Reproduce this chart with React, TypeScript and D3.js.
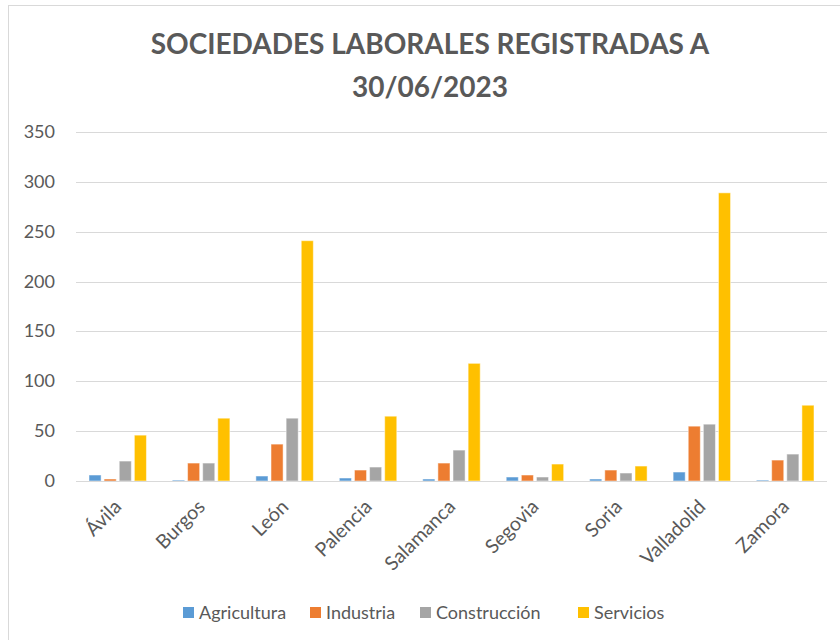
import React, { useEffect, useRef } from 'react'
import * as d3 from 'd3'

const provincias = ['Ávila', 'Burgos', 'León', 'Palencia', 'Salamanca', 'Segovia', 'Soria', 'Valladolid', 'Zamora']
const agricultura = [6, 1, 5, 3, 2, 4, 2, 9, 1]
const industria = [2, 18, 37, 11, 18, 6, 11, 55, 21]
const construccion = [20, 18, 63, 14, 31, 4, 8, 57, 27]
const servicios = [46, 63, 241, 65, 118, 17, 15, 289, 76]
const sectores = ['Agricultura', 'Industria', 'Construcción', 'Servicios']
const colores = ['#5B9BD5', '#ED7D31', '#A5A5A5', '#FFC000']
const yTicks = [0, 50, 100, 150, 200, 250, 300, 350]

const width = 840
const height = 640
const margin = { top: 132, right: 13, bottom: 159, left: 76 }
const font = 'Lato, "Open Sans", sans-serif'

export default function App() {
  const ref = useRef<SVGSVGElement>(null)

  useEffect(() => {
    const svg = d3.select(ref.current)
    svg.selectAll('*').remove()
    const series = [agricultura, industria, construccion, servicios]

    svg.append('rect')
      .attr('x', 8.5).attr('y', 5.5)
      .attr('width', width).attr('height', height)
      .attr('fill', '#fff').attr('stroke', '#D9D9D9')

    const x = d3.scaleBand().domain(provincias)
      .range([margin.left, width - margin.right])
    const inner = d3.scaleBand().domain(sectores)
      .range([13, x.bandwidth() - 13]).paddingInner(0.2)
    const y = d3.scaleLinear().domain([0, 350])
      .range([height - margin.bottom, margin.top])

    // title
    const title = svg.append('text')
      .attr('text-anchor', 'middle')
      .attr('font-family', font).attr('font-weight', 'bold')
      .attr('font-size', 28).attr('fill', '#595959')
    title.append('tspan').attr('x', 430).attr('y', 54).text('SOCIEDADES LABORALES REGISTRADAS A')
    title.append('tspan').attr('x', 430).attr('y', 97).text('30/06/2023')

    // grid
    const g = svg.append('g')
    g.selectAll('line.grid').data(yTicks).join('line')
      .attr('x1', margin.left).attr('x2', width - margin.right)
      .attr('y1', d => Math.round(y(d)) + 0.5).attr('y2', d => Math.round(y(d)) + 0.5)
      .attr('stroke', '#D9D9D9').attr('stroke-width', 1)

    g.selectAll('text.ytick').data(yTicks).join('text')
      .attr('x', 55).attr('y', d => y(d) + 6)
      .attr('text-anchor', 'end')
      .attr('font-family', font).attr('font-size', 18).attr('fill', '#595959')
      .text(d => d)

    // bars
    series.forEach((vals, si) => {
      g.append('g').selectAll('rect').data(vals).join('rect')
        .attr('x', (d, i) => x(provincias[i])! + inner(sectores[si])!)
        .attr('width', inner.bandwidth())
        .attr('y', d => y(d))
        .attr('height', d => y(0) - y(d))
        .attr('fill', colores[si])
        .attr('stroke', '#fff').attr('stroke-opacity', 0.5).attr('stroke-width', 1)
    })

    g.append('line')
      .attr('x1', margin.left).attr('x2', width - margin.right)
      .attr('y1', Math.round(y(0)) + 0.5).attr('y2', Math.round(y(0)) + 0.5)
      .attr('stroke', '#D9D9D9')

    // x labels
    g.selectAll('text.xlab').data(provincias).join('text')
      .attr('transform', d => `translate(${x(d)! + x.bandwidth() / 2 + 5},${y(0) + 27}) rotate(-45)`)
      .attr('text-anchor', 'end')
      .attr('font-family', font).attr('font-size', 19.5).attr('fill', '#595959')
      .text(d => d)

    // legend
    const legendX = [183, 310, 420, 578]
    const lg = svg.append('g')
    sectores.forEach((s, i) => {
      lg.append('rect').attr('x', legendX[i]).attr('y', 607)
        .attr('width', 11).attr('height', 11).attr('fill', colores[i])
      lg.append('text').attr('x', legendX[i] + 16).attr('y', 619)
        .attr('font-family', font).attr('font-size', 18).attr('fill', '#595959')
        .text(s)
    })
  }, [])

  return <svg ref={ref} width={width} height={height} style={{ display: 'block', position: 'absolute', left: 0, top: 0 }} />
}
